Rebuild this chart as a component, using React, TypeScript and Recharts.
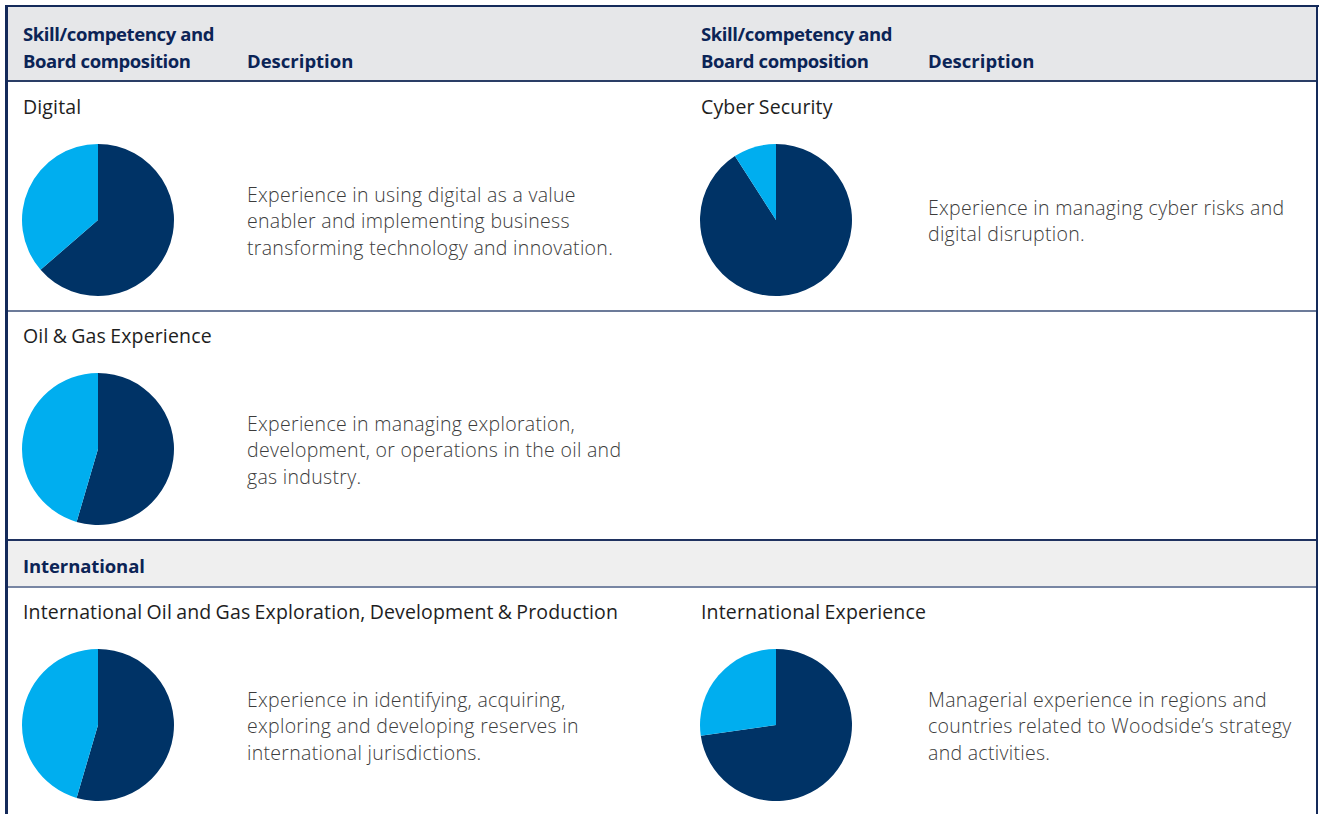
import React from "react";
import { PieChart, Pie, Cell } from "recharts";

// Board members holding each skill (dark) vs not (light), board of 11
const skillNames = [
  "Digital",
  "Cyber Security",
  "Oil & Gas Experience",
  "International Oil and Gas Exploration, Development & Production",
  "International Experience",
];
const withSkill = [7, 10, 6, 6, 8];
const withoutSkill = [4, 1, 5, 5, 3];
const descriptions = [
  ["Experience in using digital as a value", "enabler and implementing business", "transforming technology and innovation."],
  ["Experience in managing cyber risks and", "digital disruption."],
  ["Experience in managing exploration,", "development, or operations in the oil and", "gas industry."],
  ["Experience in identifying, acquiring,", "exploring and developing reserves in", "international jurisdictions."],
  ["Managerial experience in regions and", "countries related to Woodside\u2019s strategy", "and activities."],
];
const headerLabels = ["Skill/competency and", "Board composition", "Description"];
const sectionLabel = "International";

const DARK = "#003366";
const LIGHT = "#00aeef";
const NAVY = "#0b2456";
const FONT = "'Open Sans', sans-serif";

const slots = [
  { tx: 23, ty: 107, cx: 98, cy: 220, dx: 247, dy: 195 },
  { tx: 701, ty: 107, cx: 776, cy: 220, dx: 928, dy: 208 },
  { tx: 23, ty: 336, cx: 98, cy: 449, dx: 247, dy: 424 },
  { tx: 23, ty: 612, cx: 98, cy: 725, dx: 247, dy: 700 },
  { tx: 701, ty: 612, cx: 776, cy: 725, dx: 928, dy: 700 },
];

const LH = 26.5;
const R = 76;

function SkillPie({ i }: { i: number }) {
  const s = slots[i];
  const data = [
    { name: "Yes", value: withSkill[i] },
    { name: "No", value: withoutSkill[i] },
  ];
  const size = 2 * R + 10;
  return (
    <div style={{ position: "absolute", left: s.cx - size / 2, top: s.cy - size / 2 }}>
      <PieChart width={size} height={size} margin={{ top: 0, right: 0, bottom: 0, left: 0 }}>
        <Pie
          data={data}
          dataKey="value"
          cx="50%"
          cy="50%"
          outerRadius={R}
          innerRadius={0}
          startAngle={90}
          endAngle={-270}
          stroke="none"
          isAnimationActive={false}
        >
          <Cell fill={DARK} />
          <Cell fill={LIGHT} />
        </Pie>
      </PieChart>
    </div>
  );
}

function Block({ i }: { i: number }) {
  const s = slots[i];
  return (
    <>
      <div
        style={{
          position: "absolute",
          left: s.tx,
          top: s.ty - 13,
          lineHeight: "26px",
          fontSize: 19.5,
          fontWeight: 500,
          color: "#1e1e1e",
          whiteSpace: "nowrap",
          letterSpacing: 0.15,
          wordSpacing: -1,
        }}
      >
        {skillNames[i]}
      </div>
      <SkillPie i={i} />
      <div
        style={{
          position: "absolute",
          left: s.dx,
          top: s.dy - LH / 2,
          lineHeight: LH + "px",
          fontSize: 19.5,
          fontWeight: 300,
          color: "#3c3c3c",
          whiteSpace: "nowrap",
          letterSpacing: 0.3,
        }}
      >
        {descriptions[i].map((l, k) => (
          <div key={k}>{l}</div>
        ))}
      </div>
    </>
  );
}

const boldStyle: React.CSSProperties = {
  position: "absolute",
  lineHeight: "27px",
  fontSize: 18.5,
  fontWeight: 700,
  color: NAVY,
  whiteSpace: "nowrap",
  letterSpacing: -0.4,
};

function Header({ x1, x2 }: { x1: number; x2: number }) {
  return (
    <>
      <div style={{ ...boldStyle, left: x1, top: 19.5 }}>
        <div>{headerLabels[0]}</div>
        <div>{headerLabels[1]}</div>
      </div>
      <div style={{ ...boldStyle, left: x2, top: 46.5, letterSpacing: 0 }}>{headerLabels[2]}</div>
    </>
  );
}

export default function App() {
  return (
    <div
      style={{
        position: "absolute",
        left: 0,
        top: 0,
        width: 1319,
        height: 814,
        background: "#fff",
        overflow: "hidden",
        fontFamily: FONT,
      }}
    >
      {/* header band */}
      <div style={{ position: "absolute", left: 7, top: 7, width: 1310, height: 74, background: "#e6e7e9" }} />
      <div style={{ position: "absolute", left: 7, top: 80, width: 1310, height: 2, background: "#2a3d66" }} />
      {/* row separators */}
      <div style={{ position: "absolute", left: 7, top: 310, width: 1310, height: 2, background: "#6c7b99" }} />
      <div style={{ position: "absolute", left: 7, top: 539, width: 1310, height: 2, background: "#1f3260" }} />
      {/* International band */}
      <div style={{ position: "absolute", left: 7, top: 541, width: 1310, height: 45, background: "#efefef" }} />
      <div style={{ position: "absolute", left: 7, top: 586, width: 1310, height: 2, background: "#7886a3" }} />
      <div style={{ ...boldStyle, left: 23, top: 565 - 13.5, letterSpacing: -0.1 }}>{sectionLabel}</div>
      {/* outer frame */}
      <div style={{ position: "absolute", left: 5, top: 5, width: 1314, height: 2, background: "#142a5a" }} />
      <div style={{ position: "absolute", left: 5, top: 5, width: 2.5, height: 809, background: "#142a5a" }} />
      <div style={{ position: "absolute", left: 1316, top: 5, width: 2, height: 809, background: "#142a5a" }} />

      <Header x1={23} x2={247} />
      <Header x1={701} x2={928} />

      {skillNames.map((_, i) => (
        <Block key={i} i={i} />
      ))}
    </div>
  );
}
